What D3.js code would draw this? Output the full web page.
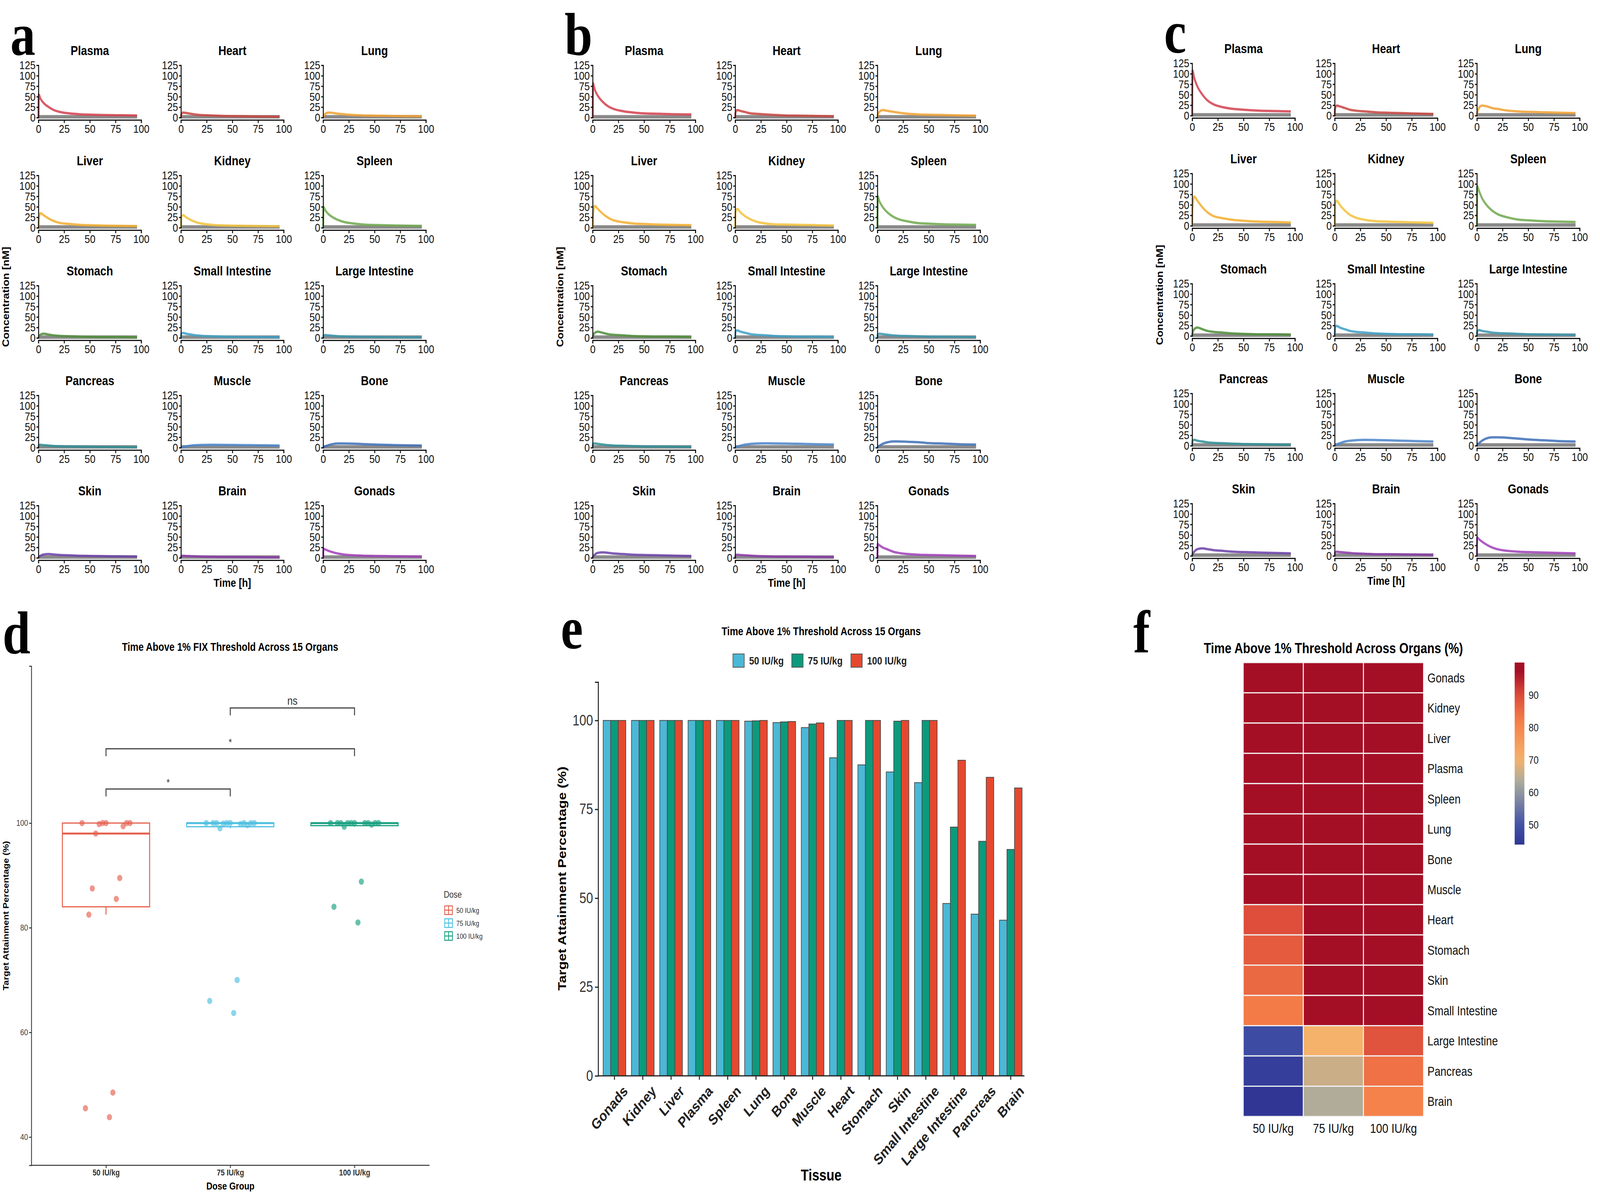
<!DOCTYPE html>
<html>
<head>
<meta charset="utf-8">
<script src="https://cdn.jsdelivr.net/npm/d3@7"></script>
<style>
  html, body { margin: 0; padding: 0; background: #fff; overflow: hidden; }
  svg { font-family: "Liberation Sans", Arial, sans-serif; display: block; width: 100vw; height: 100vh; }
</style>
</head>
<body>
<svg viewBox="0 0 4951 3059" preserveAspectRatio="none"></svg>
<script>
// ---- data ----
let times = [0, 0.3, 2, 5, 10, 15, 20, 30, 40, 50, 65, 80, 96];
let organGrid = ["Plasma", "Heart", "Lung", "Liver", "Kidney", "Spleen", "Stomach", "Small Intestine",
  "Large Intestine", "Pancreas", "Muscle", "Bone", "Skin", "Brain", "Gonads"];
let organColors = ["#d33f4f", "#c8453f", "#f0a133", "#f2ae2e", "#f2c23c", "#6ea84c", "#4f8f3a", "#3d9fc4",
  "#3a95ad", "#2f8f96", "#4a84c8", "#3d6fb6", "#6b3fa8", "#8a3aa8", "#a040b8"];

let conc50 = {
  "Plasma": [0, 55, 45, 35, 25, 18, 14, 10, 8, 7, 6, 5.5, 5],
  "Heart": [0, 8, 12, 11, 9, 7, 6, 5, 4, 3.5, 3, 2.5, 2],
  "Lung": [0, 3, 9, 12, 11, 9, 8, 6, 5, 4.5, 4, 3.5, 3],
  "Liver": [0, 20, 35, 30, 22, 16, 12, 9, 7, 6, 5, 4.5, 4],
  "Kidney": [0, 25, 30, 25, 18, 13, 10, 7, 5.5, 5, 4.5, 4, 3.5],
  "Spleen": [0, 50, 42, 33, 24, 18, 14, 10, 7.5, 6.5, 5.5, 5, 4.5],
  "Stomach": [0, 3, 8, 10, 8, 6, 5, 4, 3, 2.5, 2, 2, 1.5],
  "Small Intestine": [0, 10, 12, 10, 8, 6, 5, 4, 3, 2.5, 2, 2, 1.5],
  "Large Intestine": [0, 5, 7, 6, 5, 4, 3.5, 3, 2.5, 2, 1.8, 1.5, 1.2],
  "Pancreas": [0, 6, 7, 6, 5, 4, 3.5, 3, 2.5, 2, 1.8, 1.5, 1.2],
  "Muscle": [0, 0.5, 1.5, 3, 5, 6, 6.5, 7, 6.8, 6.5, 6, 5.5, 5],
  "Bone": [0, 1, 3, 6, 9, 10, 10, 9.5, 8.5, 7.5, 6.5, 5.5, 5],
  "Skin": [0, 2, 5, 8, 9, 8, 7, 6, 5, 4.5, 4, 3.5, 3],
  "Brain": [0, 4, 5, 4.5, 4, 3.5, 3, 2.5, 2, 2, 1.8, 1.5, 1.2],
  "Gonads": [0, 22, 20, 17, 13, 10, 8, 6, 5, 4.5, 4, 3.5, 3]
};
let conc75 = {
  "Plasma": [0, 82, 67, 52, 37, 27, 21, 15, 12, 10, 9, 8, 7.5],
  "Heart": [0, 12, 18, 16, 13, 10, 9, 7.5, 6, 5, 4.5, 3.8, 3],
  "Lung": [0, 4.5, 14, 18, 16, 14, 12, 9, 7.5, 6.8, 6, 5.2, 4.5],
  "Liver": [0, 30, 52, 45, 33, 24, 18, 13, 10, 9, 7.5, 6.8, 6],
  "Kidney": [0, 37, 45, 37, 27, 20, 15, 10, 8, 7.5, 6.8, 6, 5.2],
  "Spleen": [0, 75, 63, 50, 36, 27, 21, 15, 11, 9.8, 8.2, 7.5, 6.8],
  "Stomach": [0, 4.5, 12, 15, 12, 9, 7.5, 6, 4.5, 3.8, 3, 3, 2.2],
  "Small Intestine": [0, 15, 18, 15, 12, 9, 7.5, 6, 4.5, 3.8, 3, 3, 2.2],
  "Large Intestine": [0, 7.5, 10, 9, 7.5, 6, 5.2, 4.5, 3.8, 3, 2.7, 2.2, 1.8],
  "Pancreas": [0, 9, 10, 9, 7.5, 6, 5.2, 4.5, 3.8, 3, 2.7, 2.2, 1.8],
  "Muscle": [0, 0.8, 2.2, 4.5, 7.5, 9, 9.8, 10.5, 10, 9.8, 9, 8.2, 7.5],
  "Bone": [0, 1.5, 4.5, 9, 13, 15, 15, 14, 13, 11, 9.8, 8.2, 7.5],
  "Skin": [0, 3, 7.5, 12, 13, 12, 10.5, 9, 7.5, 6.8, 6, 5.2, 4.5],
  "Brain": [0, 6, 7.5, 6.8, 6, 5.2, 4.5, 3.8, 3, 3, 2.7, 2.2, 1.8],
  "Gonads": [0, 33, 30, 25, 20, 15, 12, 9, 7.5, 6.8, 6, 5.2, 4.5]
};
let conc100 = {
  "Plasma": [0, 108, 90, 70, 50, 36, 28, 20, 16, 14, 12, 11, 10],
  "Heart": [0, 16, 24, 22, 18, 14, 12, 10, 8, 7, 6, 5, 4],
  "Lung": [0, 6, 18, 24, 22, 18, 16, 12, 10, 9, 8, 7, 6],
  "Liver": [0, 40, 70, 60, 44, 32, 24, 18, 14, 12, 10, 9, 8],
  "Kidney": [0, 50, 60, 50, 36, 26, 20, 14, 11, 10, 9, 8, 7],
  "Spleen": [0, 95, 84, 66, 48, 36, 28, 20, 15, 13, 11, 10, 9],
  "Stomach": [0, 6, 16, 20, 16, 12, 10, 8, 6, 5, 4, 4, 3],
  "Small Intestine": [0, 20, 24, 20, 16, 12, 10, 8, 6, 5, 4, 4, 3],
  "Large Intestine": [0, 10, 14, 12, 10, 8, 7, 6, 5, 4, 3.6, 3, 2.4],
  "Pancreas": [0, 12, 14, 12, 10, 8, 7, 6, 5, 4, 3.6, 3, 2.4],
  "Muscle": [0, 1, 3, 6, 10, 12, 13, 14, 13.6, 13, 12, 11, 10],
  "Bone": [0, 2, 6, 12, 18, 20, 20, 19, 17, 15, 13, 11, 10],
  "Skin": [0, 4, 10, 16, 18, 16, 14, 12, 10, 9, 8, 7, 6],
  "Brain": [0, 8, 10, 9, 8, 7, 6, 5, 4, 4, 3.6, 3, 2.4],
  "Gonads": [0, 44, 40, 34, 26, 20, 16, 12, 10, 9, 8, 7, 6]
};

let doses = ["50 IU/kg", "75 IU/kg", "100 IU/kg"];
let tissues = ["Gonads", "Kidney", "Liver", "Plasma", "Spleen", "Lung", "Bone", "Muscle", "Heart",
  "Stomach", "Skin", "Small Intestine", "Large Intestine", "Pancreas", "Brain"];
let ta50 = [100, 100, 100, 100, 100, 99.8, 99.4, 98, 89.5, 87.5, 85.5, 82.5, 48.5, 45.5, 43.8];
let ta75 = [100, 100, 100, 100, 100, 99.9, 99.6, 99, 100, 100, 99.8, 100, 70, 66, 63.7];
let ta100 = [100, 100, 100, 100, 100, 100, 99.7, 99.3, 100, 100, 100, 100, 88.8, 84, 81];
let conTicks = [0, 25, 50, 75, 100, 125];
let timeTicks = [0, 25, 50, 75, 100];

let svg = d3.select("svg");

function letter(txt, x, y) {
  svg.append("text").attr("x", x).attr("y", y).text(txt)
    .attr("font-family", "'Liberation Serif', 'DejaVu Serif', serif")
    .attr("font-weight", "bold").attr("font-size", 155);
}

// ---- panels a, b, c ----
function drawPk(conc, ox, oy, tag) {
  let colX = [119, 560, 1000];
  let rowY = [301, 583, 865, 1146, 1428];
  let pw = 318, ph = 134;
  organGrid.forEach((org, k) => {
    let c = k % 3, r = Math.floor(k / 3);
    let x0 = ox + colX[c], y0 = oy + rowY[r];
    let xs = d3.scaleLinear().domain([0, 100]).range([x0, x0 + pw]);
    let ys = d3.scaleLinear().domain([0, 125]).range([y0, y0 - ph]);
    let g = svg.append("g");
    g.append("text").attr("x", x0 + pw / 2).attr("y", y0 - ph - 26).attr("text-anchor", "middle")
      .attr("font-weight", "bold").attr("font-size", 34).text(org);
    // grey baseline band
    g.append("line").attr("x1", xs(0)).attr("x2", xs(96)).attr("y1", ys(0) - 2).attr("y2", ys(0) - 2)
      .attr("stroke", "#8a8a8a").attr("stroke-width", 9);
    let pts = times.map((t, i) => [t, conc[org][i]]);
    g.append("path").datum(pts)
      .attr("d", d3.line().x(d => xs(d[0])).y(d => ys(d[1])).curve(d3.curveMonotoneX))
      .attr("fill", "none").attr("stroke", organColors[k]).attr("stroke-width", 6).attr("opacity", 0.85);
    let ya = g.append("g").attr("transform", `translate(${x0},0)`)
      .call(d3.axisLeft(ys).tickValues(conTicks).tickSize(6).tickPadding(3));
    let xa = g.append("g").attr("transform", `translate(0,${y0 + 6})`)
      .call(d3.axisBottom(xs).tickValues(timeTicks).tickSize(8).tickPadding(4));
    [ya, xa].forEach(a => {
      a.selectAll("text").attr("font-size", 30).attr("fill", "#111").attr("font-family", "'Liberation Sans', Arial");
      a.selectAll("path,line").attr("stroke", "#111").attr("stroke-width", 3);
    });
  });
  svg.append("text").attr("transform", `translate(${ox + 28},${oy + 760}) rotate(-90)`)
    .attr("text-anchor", "middle").attr("font-weight", "bold").attr("font-size", 28).text("Concentration [nM]");
  svg.append("text").attr("x", ox + 719).attr("y", oy + 1502).attr("text-anchor", "middle")
    .attr("font-weight", "bold").attr("font-size", 30).text("Time [h]");
  letter(tag, ox + 32, oy + 140);
}
drawPk(conc50, 0, 0, "a");
drawPk(conc75, 1715, 0, "b");
drawPk(conc100, 3570, -5, "c");

// ---- panel d ----
let doseCols = ["#e5604e", "#4dbfe0", "#18a080"];
let doseVals = [ta50, ta75, ta100];
(function () {
  letter("d", 8, 1672);
  let xs = d3.scalePoint().domain(doses).range([328, 1097]);
  let ys = d3.scaleLinear().domain([34.6, 130]).range([2983, 1705]);
  svg.append("text").attr("x", 712).attr("y", 1666).attr("text-anchor", "middle")
    .attr("font-weight", "bold").attr("font-size", 29).text("Time Above 1% FIX Threshold Across 15 Organs");
  let ya = svg.append("g").attr("transform", "translate(97,0)")
    .call(d3.axisLeft(ys).tickValues([40, 60, 80, 100]).tickSize(7));
  let xa = svg.append("g").attr("transform", "translate(0,2983)")
    .call(d3.axisBottom(xs).tickSize(7));
  xa.select(".domain").attr("d", "M97,0H1329");
  [ya, xa].forEach(a => a.selectAll("path,line").attr("stroke", "#333").attr("stroke-width", 2.5));
  ya.selectAll("text").attr("font-size", 22).attr("fill", "#444");
  xa.selectAll("text").attr("font-size", 22).attr("font-weight", "bold").attr("fill", "#333");
  svg.append("text").attr("transform", "translate(26,2344) rotate(-90)").attr("text-anchor", "middle")
    .attr("font-weight", "bold").attr("font-size", 24).text("Target Attainment Percentage (%)");
  svg.append("text").attr("x", 713).attr("y", 3045).attr("text-anchor", "middle")
    .attr("font-weight", "bold").attr("font-size", 26).text("Dose Group");

  let bw = 270;
  doses.forEach((d, i) => {
    let v = doseVals[i].slice().sort(d3.ascending);
    let q1 = d3.quantile(v, 0.25), q2 = d3.quantile(v, 0.5), q3 = d3.quantile(v, 0.75);
    let iqr = q3 - q1;
    let lo = d3.min(v.filter(x => x >= q1 - 1.5 * iqr));
    let hi = d3.max(v.filter(x => x <= q3 + 1.5 * iqr));
    let cx = xs(d), g = svg.append("g");
    g.append("line").attr("x1", cx).attr("x2", cx).attr("y1", ys(lo)).attr("y2", ys(q1))
      .attr("stroke", doseCols[i]).attr("stroke-width", 3);
    g.append("line").attr("x1", cx).attr("x2", cx).attr("y1", ys(hi)).attr("y2", ys(q3))
      .attr("stroke", doseCols[i]).attr("stroke-width", 3);
    g.append("rect").attr("x", cx - bw / 2).attr("width", bw).attr("y", ys(q3))
      .attr("height", Math.max(ys(q1) - ys(q3), 2)).attr("fill", "none")
      .attr("stroke", doseCols[i]).attr("stroke-width", 3);
    g.append("line").attr("x1", cx - bw / 2).attr("x2", cx + bw / 2).attr("y1", ys(q2)).attr("y2", ys(q2))
      .attr("stroke", doseCols[i]).attr("stroke-width", 5);
    doseVals[i].forEach((val, j) => {
      let jit = (((j * 7) % 15) / 14 - 0.5) * 0.55 * bw;
      g.append("circle").attr("cx", cx + jit).attr("cy", ys(val)).attr("r", 8)
        .attr("fill", doseCols[i]).attr("opacity", 0.65);
    });
  });
  // significance brackets
  let brackets = [[0, 1, 106.5, "*"], [0, 2, 114.2, "*"], [1, 2, 122, "ns"]];
  brackets.forEach(b => {
    let x1 = xs(doses[b[0]]), x2 = xs(doses[b[1]]), y = ys(b[2]);
    svg.append("path").attr("d", `M${x1},${y + 19}V${y}H${x2}V${y + 19}`)
      .attr("fill", "none").attr("stroke", "#444").attr("stroke-width", 3);
    svg.append("text").attr("x", (x1 + x2) / 2).attr("y", y - 8).attr("text-anchor", "middle")
      .attr("font-size", b[3] === "ns" ? 30 : 26).attr("fill", "#333").text(b[3]);
  });
  // legend
  svg.append("text").attr("x", 1373).attr("y", 2298).attr("font-size", 24).attr("fill", "#333").text("Dose");
  doses.forEach((d, i) => {
    let y = 2330 + i * 33;
    svg.append("rect").attr("x", 1376).attr("y", y - 11).attr("width", 24).attr("height", 22)
      .attr("fill", "none").attr("stroke", doseCols[i]).attr("stroke-width", 2.5);
    svg.append("line").attr("x1", 1376).attr("x2", 1400).attr("y1", y).attr("y2", y)
      .attr("stroke", doseCols[i]).attr("stroke-width", 2.5);
    svg.append("line").attr("x1", 1388).attr("x2", 1388).attr("y1", y - 11).attr("y2", y + 11)
      .attr("stroke", doseCols[i]).attr("stroke-width", 2.5);
    svg.append("text").attr("x", 1412).attr("y", y + 7).attr("font-size", 19).attr("fill", "#333").text(d);
  });
})();

// ---- panel e ----
let barCols = ["#4bb8d6", "#0c9a7c", "#e6482f"];
(function () {
  letter("e", 1735, 1660);
  let xs = d3.scaleBand().domain(tissues).range([1862, 3167]).paddingInner(0.2).paddingOuter(0.05);
  let xi = d3.scaleBand().domain(doses).range([0, xs.bandwidth()]);
  let ys = d3.scaleLinear().domain([0, 110.8]).range([2754, 1746]);
  svg.append("text").attr("x", 2541).attr("y", 1626).attr("text-anchor", "middle")
    .attr("font-weight", "bold").attr("font-size", 29).text("Time Above 1% Threshold Across 15 Organs");
  let lx = [2268, 2450, 2633];
  doses.forEach((d, i) => {
    svg.append("rect").attr("x", lx[i]).attr("y", 1674).attr("width", 35).attr("height", 34)
      .attr("fill", barCols[i]).attr("stroke", "#555").attr("stroke-width", 2);
    svg.append("text").attr("x", lx[i] + 50).attr("y", 1701).attr("font-weight", "bold")
      .attr("font-size", 28).attr("fill", "#222").text(d);
  });
  let vals = [ta50, ta75, ta100];
  tissues.forEach((t, k) => {
    doses.forEach((d, i) => {
      svg.append("rect").attr("x", xs(t) + xi(d)).attr("width", xi.bandwidth())
        .attr("y", ys(vals[i][k])).attr("height", ys(0) - ys(vals[i][k]))
        .attr("fill", barCols[i]).attr("stroke", "#4a4a4a").attr("stroke-width", 2);
    });
  });
  let ya = svg.append("g").attr("transform", "translate(1851,0)")
    .call(d3.axisLeft(ys).tickValues([0, 25, 50, 75, 100]).tickSize(10).tickPadding(6));
  ya.selectAll("text").attr("font-size", 38).attr("fill", "#333");
  ya.selectAll("path,line").attr("stroke", "#222").attr("stroke-width", 3);
  let xa = svg.append("g").attr("transform", "translate(0,2754)")
    .call(d3.axisBottom(xs).tickSize(10));
  xa.select(".domain").attr("d", "M1851,0H3170");
  xa.selectAll("path,line").attr("stroke", "#222").attr("stroke-width", 3);
  xa.selectAll("text").attr("font-size", 38).attr("font-weight", "bold").attr("fill", "#222")
    .attr("text-anchor", "end").attr("transform", "translate(10,8) rotate(-45)").attr("dy", "0.9em");
  svg.append("text").attr("transform", "translate(1752,2249) rotate(-90)").attr("text-anchor", "middle")
    .attr("font-weight", "bold").attr("font-size", 36).text("Target Attainment Percentage (%)");
  svg.append("text").attr("x", 2541).attr("y", 3022).attr("text-anchor", "middle")
    .attr("font-weight", "bold").attr("font-size", 40).text("Tissue");
})();

// ---- panel f ----
(function () {
  letter("f", 3507, 1670);
  let all = ta50.concat(ta75, ta100);
  let lo = d3.min(all), hi = d3.max(all);
  let color = d3.scaleLinear()
    .domain([43.8, 50, 63, 70, 82, 90, 97, 100])
    .range(["#313695", "#4153a6", "#a9ab9e", "#f5b26b", "#f57e48", "#dc4b3a", "#a50f26", "#a50f26"]);
  let xs = d3.scaleBand().domain(doses).range([3847, 4405]);
  let ys = d3.scaleBand().domain(tissues).range([1696, 2858]);
  svg.append("text").attr("x", 4126).attr("y", 1672).attr("text-anchor", "middle")
    .attr("font-weight", "bold").attr("font-size", 37).text("Time Above 1% Threshold Across Organs (%)");
  let vals = [ta50, ta75, ta100];
  tissues.forEach((t, k) => {
    doses.forEach((d, i) => {
      svg.append("rect").attr("x", xs(d)).attr("y", ys(t)).attr("width", xs.bandwidth())
        .attr("height", ys.bandwidth()).attr("fill", color(vals[i][k]))
        .attr("stroke", "#f2f2f2").attr("stroke-width", 3);
    });
    svg.append("text").attr("x", 4417).attr("y", ys(t) + ys.bandwidth() / 2 + 12)
      .attr("font-size", 33).attr("fill", "#111").text(t);
  });
  doses.forEach(d => {
    svg.append("text").attr("x", xs(d) + xs.bandwidth() / 2).attr("y", 2900).attr("text-anchor", "middle")
      .attr("font-size", 34).attr("fill", "#111").text(d);
  });
  // colour bar
  let cb = d3.scaleLinear().domain([lo, hi]).range([2162, 1696]);
  let grad = svg.append("defs").append("linearGradient").attr("id", "cbar")
    .attr("x1", 0).attr("x2", 0).attr("y1", 1).attr("y2", 0);
  d3.range(0, 1.0001, 0.05).forEach(p => {
    grad.append("stop").attr("offset", p).attr("stop-color", color(lo + p * (hi - lo)));
  });
  svg.append("rect").attr("x", 4687).attr("y", 1696).attr("width", 30).attr("height", 466).attr("fill", "url(#cbar)");
  [50, 60, 70, 80, 90].forEach(v => {
    svg.append("text").attr("x", 4730).attr("y", cb(v) + 10).attr("font-size", 28).attr("fill", "#222").text(v);
  });
})();
</script>
</body>
</html>
